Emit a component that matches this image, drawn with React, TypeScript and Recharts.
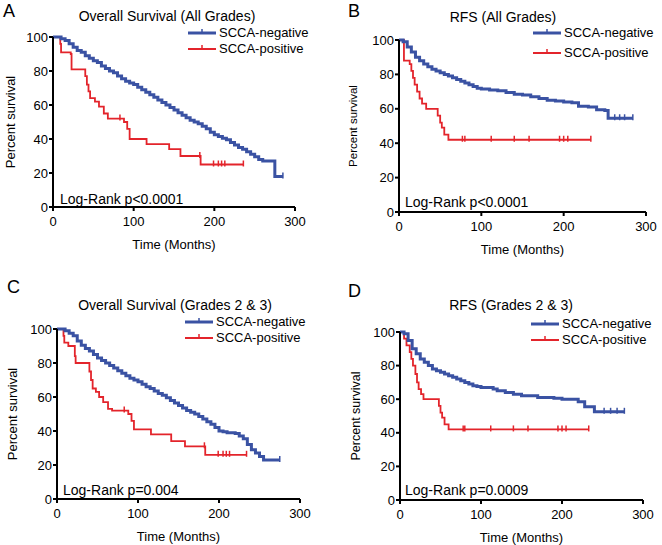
import { LineChart, Line, XAxis, YAxis } from 'recharts';

// [months, percent, censored?]
type Pt = [number, number, number?];

const BLUE = '#3a52a3';
const RED = '#e3242b';
const FONT = '"Liberation Sans", Arial, sans-serif';

const xTicks = [0, 100, 200, 300];
const yTicks = [0, 20, 40, 60, 80, 100];
const negName = 'SCCA-negative';
const posName = 'SCCA-positive';

// A: overall survival, all grades
const osAllNeg: Pt[] = [
  [0, 100], [6, 100], [10, 99], [15, 98], [20, 96], [25, 94], [30, 92], [35, 91], [40, 89], [45, 87.5],
  [50, 86], [55, 85], [60, 83], [65, 81.5], [70, 80], [75, 79], [80, 77], [85, 75.5], [90, 74], [95, 73],
  [100, 72], [105, 70.5], [110, 69], [115, 67.5], [120, 66], [125, 64.5], [130, 63], [135, 61.5], [140, 60],
  [145, 58.5], [150, 57], [155, 55.5], [160, 54], [165, 52.5], [170, 51], [175, 50], [180, 49], [185, 47.5],
  [190, 46], [195, 44], [200, 42.5], [205, 41.5], [210, 40.5], [215, 39.5], [220, 38], [225, 36.5], [230, 35],
  [235, 34], [240, 32.5], [245, 31], [250, 29.5], [255, 28], [260, 27], [274, 27], [275, 18], [285, 18, 1],
];
const osAllPos: Pt[] = [
  [0, 100], [9, 96], [10, 91], [22, 90], [23, 81], [38, 81], [40, 77], [42, 72], [44, 68], [46, 64],
  [52, 62], [57, 59], [63, 55], [68, 52], [83, 52, 1], [88, 50], [92, 46], [95, 40], [115, 40], [116, 37],
  [143, 37], [144, 34], [157, 34], [158, 30], [182, 30, 1], [183, 25], [199, 25, 1], [205, 25, 1],
  [209, 25, 1], [213, 25, 1], [236, 25, 1],
];

// B: RFS, all grades
const rfsAllNeg: Pt[] = [
  [0, 100], [5, 99], [10, 96], [15, 93], [20, 90], [25, 88], [30, 86], [35, 84.5], [40, 83], [45, 82],
  [50, 81], [55, 80], [60, 79], [65, 78], [70, 77], [75, 76], [80, 75], [85, 74], [90, 73], [95, 72],
  [100, 71.5], [110, 71], [120, 70.5], [130, 69.5], [140, 68.5], [150, 68], [160, 67], [170, 66], [180, 65],
  [190, 64.5], [200, 64], [210, 63.5], [218, 61.5], [230, 61], [240, 59.5], [250, 59], [254, 54.5],
  [262, 54.5, 1], [268, 54.5, 1], [274, 54.5, 1], [284, 54.5, 1],
];
const rfsAllPos: Pt[] = [
  [0, 100], [6, 88], [13, 86], [15, 82], [17, 78], [19, 74], [22, 70], [25, 66], [28, 63], [33, 60],
  [46, 60], [47, 56], [50, 52], [52, 49], [55, 45], [60, 42], [77, 42, 1], [80, 42, 1], [112, 42, 1],
  [140, 42, 1], [158, 42, 1], [195, 42, 1], [200, 42, 1], [205, 42, 1], [233, 42, 1],
];

// C: overall survival, grades 2 & 3
const osG23Neg: Pt[] = [
  [0, 100], [8, 100], [10, 99], [15, 97.5], [20, 96], [25, 93], [30, 90.5], [35, 88.5], [40, 87], [45, 85],
  [50, 83], [55, 81.5], [60, 80], [65, 78.5], [70, 77], [75, 75.5], [80, 74], [85, 72.5], [90, 71], [95, 70],
  [100, 69], [105, 67.5], [110, 66], [115, 65], [120, 63.5], [125, 62], [130, 61], [135, 59.5], [140, 58],
  [145, 56.5], [150, 55], [155, 53.5], [160, 52], [165, 51], [170, 50], [175, 48.5], [180, 47], [185, 45.5],
  [190, 44], [195, 42], [200, 40], [205, 39.5], [210, 39], [215, 39], [220, 38.5], [225, 37], [230, 35.5],
  [235, 32], [240, 29], [245, 27], [250, 25], [255, 23], [275, 23, 1],
];
const osG23Pos: Pt[] = [
  [0, 100], [8, 96], [9, 92], [14, 90], [22, 84], [23, 80], [38, 80], [40, 75], [42, 70], [44, 65],
  [48, 63], [52, 60], [57, 57], [63, 53], [68, 52], [83, 52, 1], [88, 50], [92, 46], [95, 41], [115, 41],
  [116, 38], [140, 38], [141, 34], [157, 34], [158, 31], [182, 31, 1], [183, 26], [199, 26, 1], [205, 26, 1],
  [209, 26, 1], [213, 26, 1], [234, 26, 1],
];

// D: RFS, grades 2 & 3
const rfsG23Neg: Pt[] = [
  [0, 100], [5, 99], [10, 95], [15, 90], [20, 87], [25, 84], [30, 82], [35, 80], [40, 78], [45, 77],
  [50, 76], [55, 75], [60, 74], [65, 73], [70, 72], [75, 71], [80, 70], [85, 69], [90, 68], [95, 67.5],
  [100, 67], [110, 67], [115, 66], [120, 65], [130, 64], [140, 63], [150, 62], [160, 62], [170, 61],
  [180, 61], [190, 60.5], [200, 60], [210, 60], [220, 58.5], [228, 55.5], [240, 52.5], [252, 52.5, 1],
  [260, 52.5, 1], [268, 52.5, 1], [277, 52.5, 1],
];
const rfsG23Pos: Pt[] = [
  [0, 100], [5, 96], [8, 92], [12, 88], [14, 84], [16, 80], [19, 75], [21, 70], [23, 66], [26, 63],
  [29, 60], [46, 60], [48, 56], [50, 52], [52, 49], [55, 45], [60, 42], [78, 42, 1], [80, 42, 1],
  [112, 42, 1], [140, 42, 1], [158, 42, 1], [195, 42, 1], [200, 42, 1], [205, 42, 1], [233, 42, 1],
];

const toRows = (pts: Pt[]) => pts.map(([t, s, c]) => ({ t, s, c: !!c }));

const censorDot = (color: string) => (props: any) => {
  const { cx, cy, payload, index } = props;
  if (!payload?.c) return <g key={`n${index}`} />;
  return <line key={`c${index}`} x1={cx} x2={cx} y1={cy - 4} y2={cy + 2} stroke={color} strokeWidth={1.5} />;
};

const panels = [
  {
    letter: 'A', title: 'Overall Survival (All Grades)', logRank: 'Log-Rank p<0.0001', neg: osAllNeg, pos: osAllPos,
    x0: 0, y0: 0, h: 272, left: 53, right: 295, top: 37, bottom: 207, labelX: 10, labelSize: 13,
    titleX: 167, titleY: 16, letterX: 3, letterY: 11, legX: 188, legY: [33, 49], logX: 60, logY: 199,
  },
  {
    letter: 'B', title: 'RFS (All Grades)', logRank: 'Log-Rank p<0.0001', neg: rfsAllNeg, pos: rfsAllPos,
    x0: 331, y0: 0, h: 272, left: 68, right: 315, top: 40, bottom: 212, labelX: 22, labelSize: 11.5,
    titleX: 172, titleY: 17, letterX: 17, letterY: 11, legX: 202, legY: [33, 53], logX: 74, logY: 202,
  },
  {
    letter: 'C', title: 'Overall Survival (Grades 2 & 3)', logRank: 'Log-Rank p=0.004', neg: osG23Neg, pos: osG23Pos,
    x0: 0, y0: 272, h: 273, left: 57, right: 300, top: 57, bottom: 227, labelX: 12, labelSize: 13,
    titleX: 175, titleY: 33, letterX: 7, letterY: 15, legX: 185, legY: [50, 66], logX: 63, logY: 218,
  },
  {
    letter: 'D', title: 'RFS (Grades 2 & 3)', logRank: 'Log-Rank p=0.0009', neg: rfsG23Neg, pos: rfsG23Pos,
    x0: 331, y0: 272, h: 273, left: 69, right: 312, top: 60, bottom: 228, labelX: 25, labelSize: 12.5,
    titleX: 180, titleY: 33, letterX: 17, letterY: 19, legX: 200, legY: [52, 68], logX: 74, logY: 218,
  },
];

const axisStyle = { stroke: '#000', strokeWidth: 2 };
const tickStyle = { fill: '#000', fontSize: 13, fontFamily: FONT };

function LegendRow({ x, y, color, width, label }: any) {
  return (
    <div style={{ position: 'absolute', left: x, top: y - 9, height: 18, display: 'flex', alignItems: 'center' }}>
      <svg width={28} height={10} style={{ display: 'block' }}>
        <line x1={0} x2={28} y1={5} y2={5} stroke={color} strokeWidth={width} />
        <line x1={14} x2={14} y1={1} y2={5} stroke={color} strokeWidth={1.5} />
      </svg>
      <span style={{ marginLeft: 3, fontSize: 13, lineHeight: '18px' }}>{label}</span>
    </div>
  );
}

function Panel({ p }: any) {
  const xAxisH = 42;
  const mLeft = p.labelX - 2;
  return (
    <div style={{ position: 'absolute', left: p.x0, top: p.y0, width: 331, height: p.h }}>
      <LineChart
        width={331}
        height={p.h}
        margin={{ top: p.top, right: 331 - p.right, left: mLeft, bottom: p.h - p.bottom - xAxisH }}
      >
        <XAxis
          type="number"
          dataKey="t"
          domain={[0, 300]}
          ticks={xTicks}
          height={xAxisH}
          axisLine={axisStyle}
          tickLine={axisStyle}
          tickSize={4}
          tickMargin={6}
          tick={tickStyle}
          label={{ value: 'Time (Months)', position: 'insideBottom', offset: 0, fill: '#000', fontSize: 13, fontFamily: FONT }}
        />
        <YAxis
          type="number"
          dataKey="s"
          domain={[0, 100]}
          ticks={yTicks}
          width={p.left - mLeft}
          axisLine={axisStyle}
          tickLine={axisStyle}
          tickSize={4}
          tickMargin={1}
          tick={tickStyle}
          label={{
            value: 'Percent survival', angle: -90, position: 'insideLeft', offset: 2,
            fill: '#000', fontSize: p.labelSize, fontFamily: FONT, style: { textAnchor: 'middle' },
          }}
        />
        <Line
          data={toRows(p.pos)}
          dataKey="s"
          name={posName}
          type="stepAfter"
          stroke={RED}
          strokeWidth={1.8}
          dot={censorDot(RED)}
          activeDot={false}
          isAnimationActive={false}
        />
        <Line
          data={toRows(p.neg)}
          dataKey="s"
          name={negName}
          type="stepAfter"
          stroke={BLUE}
          strokeWidth={3}
          dot={censorDot(BLUE)}
          activeDot={false}
          isAnimationActive={false}
        />
      </LineChart>
      <div style={{ position: 'absolute', left: p.letterX, top: p.letterY - 11, fontSize: 18, lineHeight: '22px' }}>{p.letter}</div>
      <div style={{ position: 'absolute', left: p.titleX, top: p.titleY - 9, transform: 'translateX(-50%)', whiteSpace: 'nowrap', fontSize: 14, lineHeight: '18px' }}>
        {p.title}
      </div>
      <LegendRow x={p.legX} y={p.legY[0]} color={BLUE} width={3} label={negName} />
      <LegendRow x={p.legX} y={p.legY[1]} color={RED} width={2} label={posName} />
      <div style={{ position: 'absolute', left: p.logX, top: p.logY - 9, whiteSpace: 'nowrap', fontSize: 14, lineHeight: '18px' }}>
        {p.logRank}
      </div>
    </div>
  );
}

export default function App() {
  return (
    <div style={{ position: 'absolute', left: 0, top: 0, width: 662, height: 545, background: '#fff', fontFamily: FONT, color: '#000' }}>
      {panels.map((p) => (
        <Panel key={p.letter} p={p} />
      ))}
    </div>
  );
}
